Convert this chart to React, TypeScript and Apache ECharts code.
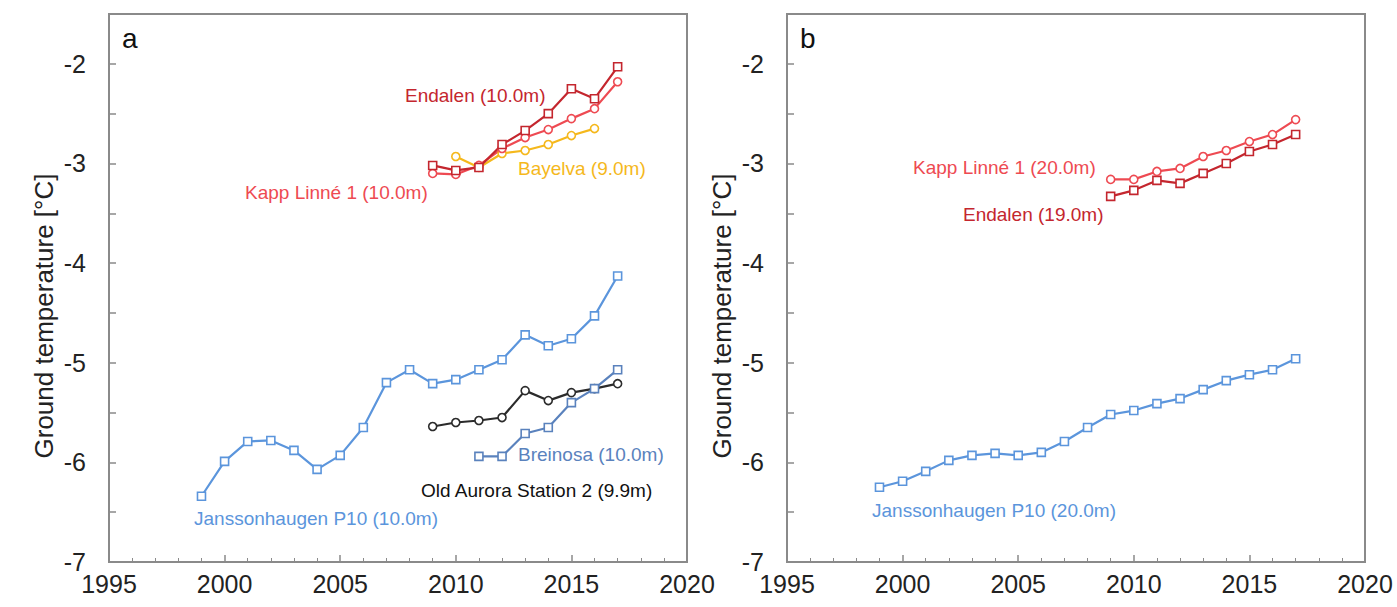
import React, { useEffect, useRef } from "react";
import * as echarts from "echarts";

// ---------- data ----------
const jansA_years = [1999, 2000, 2001, 2002, 2003, 2004, 2005, 2006, 2007, 2008, 2009, 2010, 2011, 2012, 2013, 2014, 2015, 2016, 2017];
const jansA_vals = [-6.34, -5.99, -5.79, -5.78, -5.88, -6.07, -5.93, -5.65, -5.2, -5.07, -5.21, -5.17, -5.07, -4.97, -4.72, -4.83, -4.76, -4.53, -4.13];

const aurora_years = [2009, 2010, 2011, 2012, 2013, 2014, 2015, 2016, 2017];
const aurora_vals = [-5.64, -5.6, -5.58, -5.55, -5.28, -5.38, -5.3, -5.26, -5.21];

const breinosa_years = [2011, 2012, 2013, 2014, 2015, 2016, 2017];
const breinosa_vals = [-5.94, -5.94, -5.71, -5.65, -5.4, -5.26, -5.07];

const endalenA_years = [2009, 2010, 2011, 2012, 2013, 2014, 2015, 2016, 2017];
const endalenA_vals = [-3.02, -3.07, -3.04, -2.81, -2.67, -2.5, -2.25, -2.35, -2.03];

const kappA_years = [2009, 2010, 2011, 2012, 2013, 2014, 2015, 2016, 2017];
const kappA_vals = [-3.1, -3.11, -3.02, -2.85, -2.74, -2.66, -2.55, -2.45, -2.18];

const bayelva_years = [2010, 2011, 2012, 2013, 2014, 2015, 2016];
const bayelva_vals = [-2.93, -3.04, -2.9, -2.87, -2.81, -2.72, -2.65];

const kappB_years = [2009, 2010, 2011, 2012, 2013, 2014, 2015, 2016, 2017];
const kappB_vals = [-3.16, -3.16, -3.08, -3.05, -2.93, -2.87, -2.78, -2.71, -2.56];

const endalenB_years = [2009, 2010, 2011, 2012, 2013, 2014, 2015, 2016, 2017];
const endalenB_vals = [-3.33, -3.27, -3.17, -3.2, -3.1, -3.0, -2.88, -2.81, -2.71];

const jansB_years = [1999, 2000, 2001, 2002, 2003, 2004, 2005, 2006, 2007, 2008, 2009, 2010, 2011, 2012, 2013, 2014, 2015, 2016, 2017];
const jansB_vals = [-6.25, -6.19, -6.09, -5.98, -5.93, -5.91, -5.93, -5.9, -5.79, -5.65, -5.52, -5.48, -5.41, -5.36, -5.27, -5.18, -5.12, -5.07, -4.96];

const xTicks = { min: 1995, max: 2020, step: 5 };
const yTicks = { min: -7, max: -1.5, step: 1 };
const yTitle = "Ground temperature [°C]";

// ---------- styles ----------
const FONT = "Liberation Sans, Arial, Helvetica, sans-serif";
const C_JANS = "#5b95dc";
const C_BREI = "#5a82bd";
const C_AUR = "#2b2b2b";
const C_END = "#c4262e";
const C_KAPP = "#ee4a52";
const C_BAY = "#f5b81c";
const AXIS_C = "#8a8a8a";

const pair = (xs: number[], ys: number[]) => xs.map((x, i) => [x, ys[i]]);

export default function App() {
  const ref = useRef<HTMLDivElement>(null);
  useEffect(() => {
    if (!ref.current) return;
    const chart = echarts.init(ref.current, undefined, { renderer: "svg" });

    const mkX = (gi: number) => ({
      type: "value",
      gridIndex: gi,
      min: xTicks.min,
      max: xTicks.max,
      interval: xTicks.step,
      axisLine: { show: true, lineStyle: { color: AXIS_C, width: 2 } },
      axisTick: { show: true, inside: true, length: 7, lineStyle: { color: AXIS_C, width: 1.5 } },
      minorTick: { show: true, splitNumber: 5, length: 4, lineStyle: { color: AXIS_C, width: 1 } },
      splitLine: { show: false },
      axisLabel: {
        margin: 9,
        fontSize: 25,
        color: "#222",
        fontFamily: FONT,
        formatter: (v: number) => String(v),
      },
    });
    const mkY = (gi: number) => ({
      type: "value",
      gridIndex: gi,
      min: yTicks.min,
      max: yTicks.max,
      interval: yTicks.step,
      axisLine: { show: true, lineStyle: { color: AXIS_C, width: 2 } },
      axisTick: { show: true, inside: true, length: 7, lineStyle: { color: AXIS_C, width: 1.5 } },
      minorTick: { show: true, splitNumber: 2, length: 7, lineStyle: { color: AXIS_C, width: 1.5 } },
      splitLine: { show: false },
      axisLabel: {
        margin: 23,
        fontSize: 25,
        color: "#222",
        fontFamily: FONT,
        formatter: (v: number) => (Math.abs(v - yTicks.max) < 1e-9 ? "" : String(v)),
      },
    });

    const mkS = (
      name: string,
      gi: number,
      xs: number[],
      ys: number[],
      color: string,
      symbol: string
    ) => ({
      name,
      type: "line",
      xAxisIndex: gi,
      yAxisIndex: gi,
      data: pair(xs, ys),
      symbol,
      symbolSize: 8,
      showAllSymbol: true,
      lineStyle: { color, width: 2.2 },
      itemStyle: { color: "#fff", borderColor: color, borderWidth: 1.6 },
      emphasis: { disabled: true },
    });

    const txt = (
      text: string,
      x: number,
      y: number,
      color: string,
      size = 19,
      align = "left"
    ) => ({
      type: "text",
      x,
      y,
      style: {
        text,
        fill: color,
        fontSize: size,
        fontFamily: FONT,
        textAlign: align,
        textVerticalAlign: "middle",
      },
      z: 100,
    });

    const option = {
      animation: false,
      backgroundColor: "#fff",
      grid: [
        { left: 109, top: 14, width: 578, height: 548, show: true, borderColor: AXIS_C, borderWidth: 2 },
        { left: 787, top: 14, width: 578, height: 548, show: true, borderColor: AXIS_C, borderWidth: 2 },
      ],
      xAxis: [mkX(0), mkX(1)],
      yAxis: [mkY(0), mkY(1)],
      series: [
        mkS("Janssonhaugen P10 (10.0m)", 0, jansA_years, jansA_vals, C_JANS, "rect"),
        mkS("Old Aurora Station 2 (9.9m)", 0, aurora_years, aurora_vals, C_AUR, "circle"),
        mkS("Breinosa (10.0m)", 0, breinosa_years, breinosa_vals, C_BREI, "rect"),
        mkS("Bayelva (9.0m)", 0, bayelva_years, bayelva_vals, C_BAY, "circle"),
        mkS("Kapp Linné 1 (10.0m)", 0, kappA_years, kappA_vals, C_KAPP, "circle"),
        mkS("Endalen (10.0m)", 0, endalenA_years, endalenA_vals, C_END, "rect"),
        mkS("Janssonhaugen P10 (20.0m)", 1, jansB_years, jansB_vals, C_JANS, "rect"),
        mkS("Endalen (19.0m)", 1, endalenB_years, endalenB_vals, C_END, "rect"),
        mkS("Kapp Linné 1 (20.0m)", 1, kappB_years, kappB_vals, C_KAPP, "circle"),
      ],
      graphic: [
        txt("a", 122, 38, "#111", 28),
        txt("b", 800, 38, "#111", 28),
        {
          type: "text",
          x: 44,
          y: 316,
          rotation: Math.PI / 2,
          style: { text: yTitle, fill: "#222", fontSize: 26, fontFamily: FONT, textAlign: "center", textVerticalAlign: "middle" },
        },
        {
          type: "text",
          x: 722,
          y: 316,
          rotation: Math.PI / 2,
          style: { text: yTitle, fill: "#222", fontSize: 26, fontFamily: FONT, textAlign: "center", textVerticalAlign: "middle" },
        },
        txt("Endalen (10.0m)", 405, 95, C_END),
        txt("Kapp Linné 1 (10.0m)", 245, 192, C_KAPP),
        txt("Bayelva (9.0m)", 518, 168, C_BAY),
        txt("Breinosa (10.0m)", 518, 454, C_BREI),
        txt("Old Aurora Station 2 (9.9m)", 421, 490, "#111"),
        txt("Janssonhaugen P10 (10.0m)", 194, 518, C_JANS),
        txt("Kapp Linné 1 (20.0m)", 913, 167, C_KAPP),
        txt("Endalen (19.0m)", 963, 214, C_END),
        txt("Janssonhaugen P10 (20.0m)", 872, 510, C_JANS),
      ],
    };
    chart.setOption(option as any);
    return () => chart.dispose();
  }, []);
  return (
    <div
      ref={ref}
      style={{ position: "fixed", left: 0, top: 0, width: 1397, height: 607, background: "#fff" }}
    />
  );
}
